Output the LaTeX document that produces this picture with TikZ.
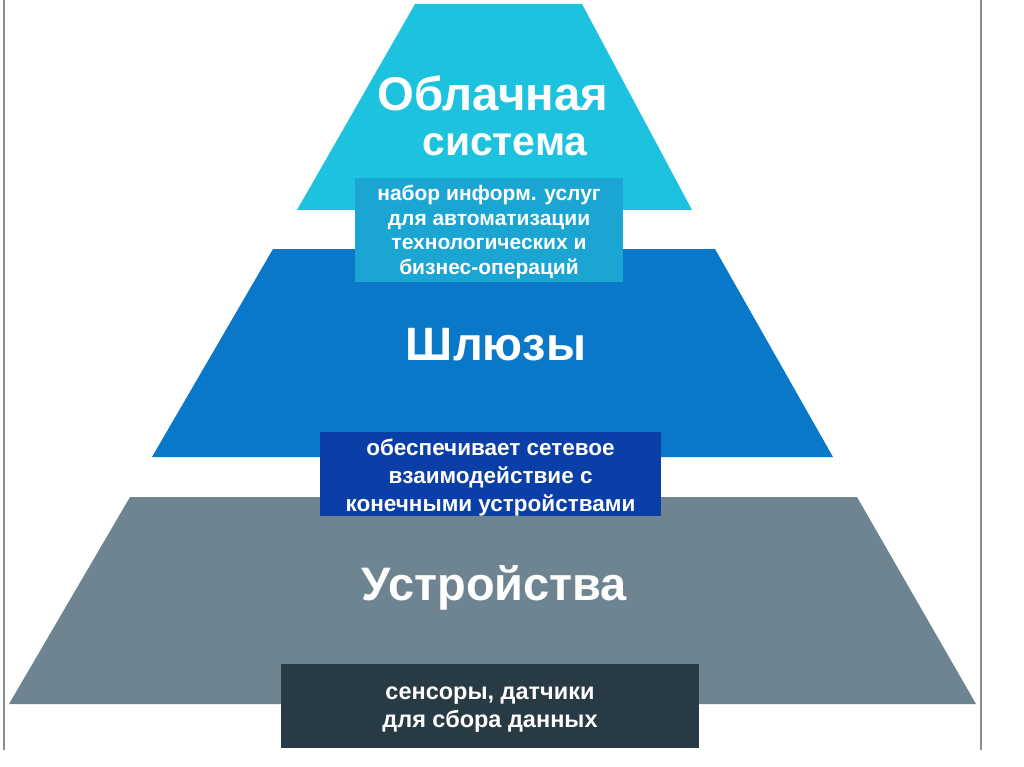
\documentclass[tikz,border=0pt]{standalone}
\usepackage{fontspec}
\setmainfont{Liberation Sans}
\definecolor{cyanT}{HTML}{1DC3DE}
\definecolor{cyanB}{HTML}{1BA5D2}
\definecolor{blueT}{HTML}{0A78C8}
\definecolor{blueB}{HTML}{0B3FA8}
\definecolor{grayT}{HTML}{6E8491}
\definecolor{darkB}{HTML}{283A44}
\definecolor{frame}{HTML}{8C8C8C}
\tikzset{
  boxbg/.style={rectangle, inner sep=0pt, draw=none},
  infotext/.style={inner sep=0pt, text=white, align=center},
  title/.style={inner sep=0pt, anchor=base, text=white, font=\bfseries},
  border/.style={draw=frame, line width=2pt}
}
\begin{document}
\begin{tikzpicture}[x=1pt,y=-1pt]
\useasboundingbox[fill=white] (0,0) rectangle (1024,767);
% frame lines
\coordinate (fl1) at (4,0);
\coordinate (fl2) at (4,750);
\coordinate (fr1) at (981,0);
\coordinate (fr2) at (981,750);
\draw[border] (fl1) -- (fl2);
\draw[border] (fr1) -- (fr2);
% layers
\fill[cyanT] (297,210) -- (415,4) -- (582,4) -- (692,210) -- cycle;
\fill[blueT] (152,457) -- (273,249) -- (715,249) -- (833,457) -- cycle;
\fill[grayT] (9,704) -- (130,497) -- (857,497) -- (976,704) -- cycle;
% boxes
\node[boxbg, fill=cyanB, minimum width=268pt, minimum height=104pt] (cloudbox) at (489,230) {};
\node[boxbg, fill=blueB, minimum width=341pt, minimum height=84pt] (gatebox) at (490.5,474) {};
\node[boxbg, fill=darkB, minimum width=418pt, minimum height=84pt] (devbox) at (490,706) {};
\node[infotext, font=\bfseries\fontsize{21}{24.8}\selectfont, yshift=-2pt]
  (cloudtext) at (cloudbox.center) {набор информ. услуг\\для автоматизации\\технологических и\\бизнес-операций};
\node[infotext, font=\bfseries\fontsize{22.5}{28}\selectfont, yshift=-4pt]
  (gatetext) at (gatebox.center) {обеспечивает сетевое\\взаимодействие с\\конечными устройствами};
\node[infotext, font=\bfseries\fontsize{23.5}{28}\selectfont, yshift=-4pt]
  (devtext) at (devbox.center) {сенсоры, датчики\\для сбора данных};
% titles
\node[title] (cloud1) at (493,111) {\resizebox{230pt}{!}{Облачная}};
\node[title] (cloud2) at (505,156) {\resizebox{165pt}{!}{система}};
\node[title] (gate) at (496,360) {\resizebox{180pt}{!}{Шлюзы}};
\node[title] (dev) at (494.5,600) {\resizebox{265pt}{!}{Устройства}};
\end{tikzpicture}
\end{document}
